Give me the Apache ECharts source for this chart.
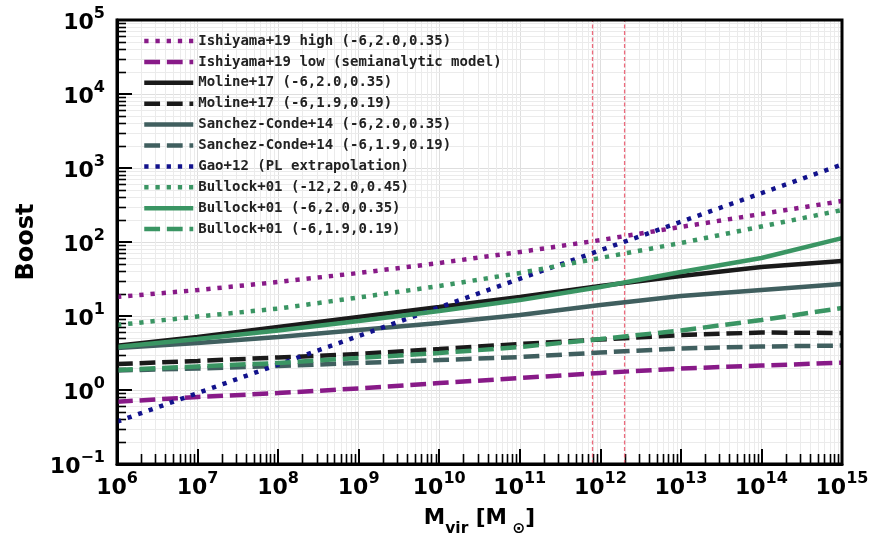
<!DOCTYPE html>
<html><head><meta charset="utf-8">
<script src="https://cdn.jsdelivr.net/npm/echarts@6/dist/echarts.min.js"></script>
<style>html,body{margin:0;padding:0;background:#fff}#c{width:873px;height:533px}</style>
</head><body><div id="c"></div>
<script>
// ---- data ----
const masses = [1e6, 1e7, 1e8, 1e9, 1e10, 1e11, 1e12, 1e13, 1e14, 1e15];
const ishiyamaHigh   = [18.1, 22.4, 28.8, 38.1, 52.0, 73.3, 106, 160, 239, 358];
const ishiyamaLow    = [0.695, 0.804, 0.91, 1.05, 1.24, 1.45, 1.70, 1.95, 2.14, 2.34];
const molineHigh     = [3.97, 5.2, 7.1, 9.7, 13.2, 18.1, 25.4, 34.7, 45.9, 55.3];
const molineLow      = [2.24, 2.47, 2.75, 3.07, 3.58, 4.19, 4.81, 5.53, 5.98, 5.89];
const sanchezHigh    = [3.7, 4.32, 5.2, 6.47, 8.04, 10.3, 14.1, 18.6, 22.5, 27.1];
const sanchezLow     = [1.84, 1.95, 2.11, 2.32, 2.54, 2.79, 3.21, 3.64, 3.87, 3.99];
const gao            = [0.373, 0.908, 2.21, 5.37, 13.1, 31.8, 77.3, 188, 457, 1112];
const bullockExtreme = [7.55, 9.84, 12.6, 17.8, 25.4, 38.1, 60.8, 96.9, 162, 270];
const bullockHigh    = [3.81, 4.89, 6.37, 8.56, 11.7, 16.4, 24.7, 39.4, 60.8, 113];
const bullockLow     = [1.86, 2.08, 2.32, 2.71, 3.16, 3.81, 4.89, 6.37, 8.83, 12.8];
const seriesNames = [
  'Ishiyama+19 high (-6,2.0,0.35)',
  'Ishiyama+19 low (semianalytic model)',
  'Moline+17 (-6,2.0,0.35)',
  'Moline+17 (-6,1.9,0.19)',
  'Sanchez-Conde+14 (-6,2.0,0.35)',
  'Sanchez-Conde+14 (-6,1.9,0.19)',
  'Gao+12 (PL extrapolation)',
  'Bullock+01 (-12,2.0,0.45)',
  'Bullock+01 (-6,2.0,0.35)',
  'Bullock+01 (-6,1.9,0.19)'
];
const xMajorTicks = [1e6, 1e7, 1e8, 1e9, 1e10, 1e11, 1e12, 1e13, 1e14, 1e15];
const yMajorTicks = [1e-1, 1e0, 1e1, 1e2, 1e3, 1e4, 1e5];
const minorMultipliers = [2, 3, 4, 5, 6, 7, 8, 9];
const refLines = [8e11, 2e12];

// ---- styles ----
const PURPLE = '#881a88', BLACK = '#1a1a1a', SLATE = '#405f5f', NAVY = '#12128c', GREEN = '#3a9563';
const LW = 4.5;
const DOT = [4.3, 6.9], DASH = [15.8, 6.8];
const styles = [
  [PURPLE, DOT], [PURPLE, DASH], [BLACK, 'solid'], [BLACK, DASH], [SLATE, 'solid'],
  [SLATE, DASH], [NAVY, DOT], [GREEN, DOT], [GREEN, 'solid'], [GREEN, DASH]
];
const values = [ishiyamaHigh, ishiyamaLow, molineHigh, molineLow, sanchezHigh, sanchezLow,
                gao, bullockExtreme, bullockHigh, bullockLow];

const XMIN = 1e6, XMAX = 1e15, YMIN = 1e-1, YMAX = 1e5;
const minorX = [], minorY = [];
for (let i = 0; i < xMajorTicks.length - 1; i++) minorMultipliers.forEach(m => minorX.push([xMajorTicks[i] * m, 1]));
for (let i = 0; i < yMajorTicks.length - 1; i++) minorMultipliers.forEach(m => minorY.push([1e6, yMajorTicks[i] * m]));

function expLabel(v) {
  const e = Math.round(Math.log10(v));
  return '{b|10}{s|' + (e < 0 ? '\u2212' + (-e) : e) + '}';
}
const FONT = 'DejaVu Sans';
const tickRich = {
  b: {fontSize: 22, fontWeight: 'bold', fontFamily: FONT, color: '#000', lineHeight: 28, verticalAlign: 'bottom'},
  s: {fontSize: 16, fontWeight: 'bold', fontFamily: FONT, color: '#000', lineHeight: 18, verticalAlign: 'top'}
};

const series = values.map((arr, i) => ({
  name: seriesNames[i], type: 'line', showSymbol: false, symbol: 'none', clip: true, z: 5,
  data: masses.map((m, j) => [m, arr[j]]),
  lineStyle: {color: styles[i][0], width: LW, type: styles[i][1], cap: 'butt'},
  itemStyle: {color: styles[i][0]}
}));

series.unshift({
  type: 'custom', z: 1, silent: true, clip: true, data: minorX,
  renderItem: (p, api) => {
    const v = api.value(0);
    const b = api.coord([v, YMIN]), t = api.coord([v, YMAX]);
    const x = Math.round(b[0]) + 0.5;
    return {type: 'group', children: [
      {type: 'line', shape: {x1: x, y1: b[1], x2: x, y2: t[1]}, style: {stroke: '#ebebeb', lineWidth: 1}},
      {type: 'line', shape: {x1: x, y1: b[1], x2: x, y2: b[1] - 10}, style: {stroke: '#000', lineWidth: 1.6}}
    ]};
  }
}, {
  type: 'custom', z: 1, silent: true, clip: true, data: minorY,
  renderItem: (p, api) => {
    const v = api.value(1);
    const l = api.coord([XMIN, v]), r = api.coord([XMAX, v]);
    const y = Math.round(l[1]) + 0.5;
    return {type: 'group', children: [
      {type: 'line', shape: {x1: l[0], y1: y, x2: r[0], y2: y}, style: {stroke: '#ebebeb', lineWidth: 1}},
      {type: 'line', shape: {x1: l[0], y1: y, x2: l[0] + 9, y2: y}, style: {stroke: '#000', lineWidth: 1.6}}
    ]};
  }
}, {
  type: 'custom', z: 4, silent: true, clip: true, data: refLines.map(v => [v, 1]),
  renderItem: (p, api) => {
    const v = api.value(0);
    const b = api.coord([v, YMIN]), t = api.coord([v, YMAX]);
    return {type: 'line', shape: {x1: b[0], y1: b[1], x2: t[0], y2: t[1]},
      style: {stroke: '#ec6a7c', lineWidth: 1.3, lineDash: [4, 2.5]}};
  }
});

const chart = echarts.init(document.getElementById('c'), null, {renderer: 'canvas'});
chart.setOption({
  animation: false,
  backgroundColor: '#fff',
  grid: {left: 117, right: 31, top: 20, bottom: 69, show: true, borderColor: '#000', borderWidth: 3,
         backgroundColor: 'transparent', z: 10, containLabel: false, outerBoundsMode: 'none'},
  legend: {
    data: seriesNames, orient: 'vertical', left: 142, top: 34, padding: 0,
    itemWidth: 49, itemHeight: 14, itemGap: 6.9,
    itemStyle: {opacity: 0, borderWidth: 0},
    lineStyle: {width: LW},
    textStyle: {fontFamily: 'DejaVu Sans Mono', fontWeight: 'bold', fontSize: 14, color: '#222'},
    selectedMode: false
  },
  xAxis: {
    type: 'log', logBase: 10, min: XMIN, max: XMAX,
    axisLine: {show: true, lineStyle: {color: '#000', width: 3}},
    axisTick: {show: true, inside: true, length: 15, lineStyle: {color: '#000', width: 2}},
    splitLine: {show: true, lineStyle: {color: '#dedede', width: 1}},
    axisLabel: {margin: 7, formatter: expLabel, rich: tickRich, showMinLabel: true, showMaxLabel: true},
    name: '{b|M}{sb|vir}{b| [M}{sb| \u2299}{b|]}', nameLocation: 'middle', nameGap: 43,
    nameTextStyle: {rich: {
      b: {fontSize: 21.5, fontWeight: 'bold', fontFamily: FONT, color: '#000', lineHeight: 20, verticalAlign: 'top'},
      sb: {fontSize: 15.5, fontWeight: 'bold', fontFamily: FONT, color: '#000', lineHeight: 30, verticalAlign: 'bottom'}
    }}
  },
  yAxis: {
    type: 'log', logBase: 10, min: YMIN, max: YMAX,
    axisLine: {show: true, lineStyle: {color: '#000', width: 3}},
    axisTick: {show: true, inside: true, length: 15, lineStyle: {color: '#000', width: 2}},
    splitLine: {show: true, lineStyle: {color: '#dedede', width: 1}},
    axisLabel: {margin: 12, formatter: expLabel, rich: tickRich, showMinLabel: true, showMaxLabel: true},
    name: 'Boost', nameLocation: 'middle', nameGap: 73, nameRotate: 90,
    nameTextStyle: {fontSize: 24, fontWeight: 'bold', fontFamily: FONT, color: '#000'}
  },
  series: series
});
</script></body></html>
